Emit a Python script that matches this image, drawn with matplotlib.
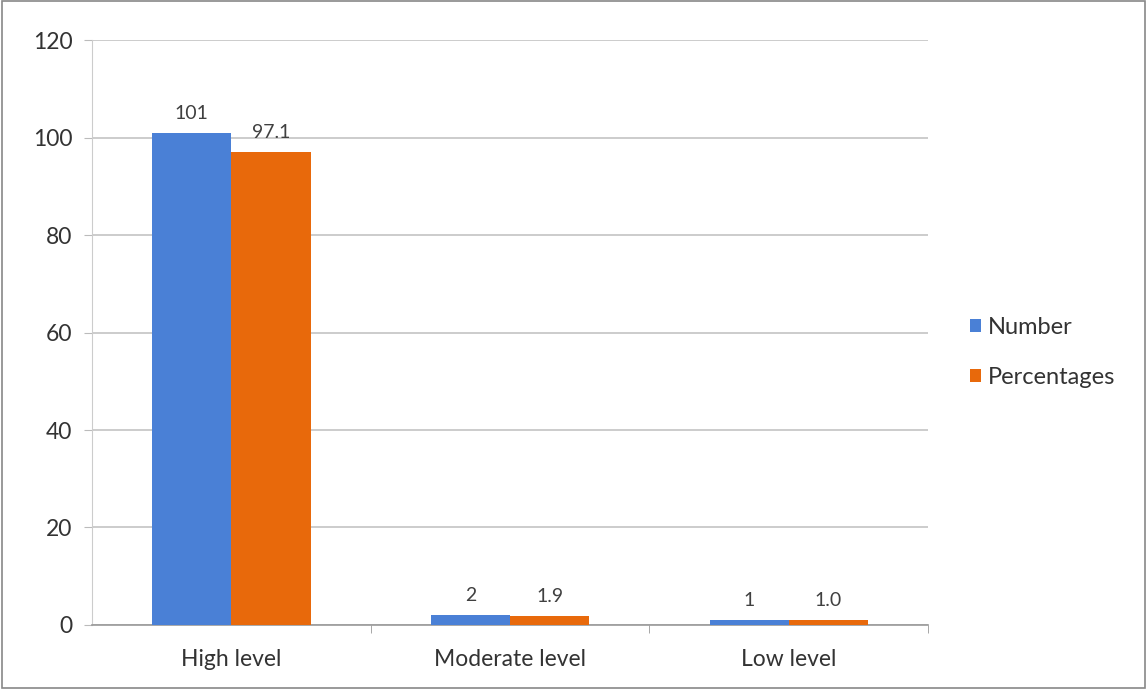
import numpy as np
import matplotlib.pyplot as plt
from matplotlib.patches import Rectangle

plt.rcParams["font.family"] = ["Lato", "DejaVu Sans"]

# Data
categories = ["High level", "Moderate level", "Low level"]
number = [101, 2, 1]
percentages = [97.1, 1.9, 1.0]
number_labels = ["101", "2", "1"]
percent_labels = ["97.1", "1.9", "1.0"]

blue = "#4a80d6"
orange = "#e8690b"

fig = plt.figure(figsize=(11.47, 6.89), dpi=100)
ax = fig.add_axes([0.0802, 0.0929, 0.729, 0.849])

x = np.arange(len(categories))
width = 0.284

b1 = ax.bar(x - width / 2, number, width, color=blue, label="Number", zorder=3)
b2 = ax.bar(x + width / 2, percentages, width, color=orange, label="Percentages", zorder=3)

# Etiketler
for bars, labs in [(b1, number_labels), (b2, percent_labels)]:
    for rect, lab in zip(bars, labs):
        ax.annotate(lab, (rect.get_x() + rect.get_width() / 2, rect.get_height()),
                    xytext=(0, 8), textcoords="offset points",
                    ha="center", va="bottom", fontsize=14, color="#404040")

ax.set_xlim(-0.5, 2.5)
ax.set_ylim(0, 120)
ax.set_yticks(range(0, 121, 20))
ax.yaxis.grid(True, color="#c4c4c4", linewidth=1.2, zorder=0)
ax.set_axisbelow(True)

ax.set_xticks(x)
ax.set_xticklabels(categories, fontsize=16.5, color="#333333")
ax.set_xticks([0.5, 1.5, 2.5], minor=True)
ax.tick_params(axis="x", which="major", length=0, pad=17)
ax.tick_params(axis="x", which="minor", length=6, color="#999999", direction="out")
ax.tick_params(axis="y", length=6, color="#bbbbbb", labelsize=16.5, labelcolor="#333333", pad=8)

for s in ["top", "right"]:
    ax.spines[s].set_visible(False)
ax.spines["left"].set_color("#cccccc")
ax.spines["bottom"].set_color("#999999")
ax.spines["bottom"].set_linewidth(1.2)

ax.legend(loc="center left", bbox_to_anchor=(1.025, 0.466), frameon=False,
          fontsize=17, handlelength=0.45, handleheight=0.45, handletextpad=0.3,
          labelspacing=1.2, labelcolor="#333333")

fig.patches.append(Rectangle((0.002, 0.002), 0.996, 0.996, transform=fig.transFigure,
                             fill=False, edgecolor="#888888", linewidth=1.2))

fig.savefig("out.png", dpi=100)
